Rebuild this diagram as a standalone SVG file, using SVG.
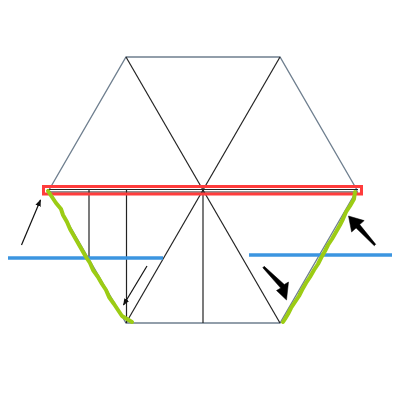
<svg xmlns="http://www.w3.org/2000/svg" width="400" height="400" viewBox="0 0 400 400">
<style>
.hex{fill:none;stroke:#6f7f8f;stroke-width:1.3}
.inner{stroke:#222;stroke-width:1.2;fill:none}
.blue{stroke:#3b95e0;stroke-width:3.5}
.green{fill:none;stroke:#9ccc14;stroke-width:4;stroke-linejoin:round;stroke-linecap:round}
.thin{stroke:#111;stroke-width:1.2}
.bigarrow{fill:#000;stroke:#000;stroke-width:0.5;stroke-linejoin:round}
</style>
<defs>
<marker id="ah" viewBox="0 0 10 10" refX="9" refY="5" markerWidth="7" markerHeight="7" markerUnits="userSpaceOnUse" orient="auto"><path d="M0,1 L10,5 L0,9 Z" fill="#111"/></marker>
</defs>
<g id="hexagon">
<polygon class="hex" points="126,57 280,57 357,190 280,323 126,323 49,190"/>
</g>
<g id="inner-lines">
<line class="inner" x1="126" y1="57" x2="203" y2="190"/>
<line class="inner" x1="280" y1="57" x2="203" y2="190"/>
<line class="inner" x1="203" y1="190" x2="126" y2="323"/>
<line class="inner" x1="203" y1="190" x2="280" y2="323"/>
<line class="inner" x1="203" y1="190" x2="203" y2="323"/>
<line class="inner" x1="89" y1="190" x2="89" y2="258"/>
<line class="inner" x1="126.5" y1="190" x2="126.5" y2="323"/>
<line class="inner" x1="47" y1="189.5" x2="358" y2="189.5"/>
<line class="inner" x1="47" y1="192" x2="358" y2="192"/>
</g>
<g id="red-box">
<rect x="43.5" y="186.5" width="318" height="7.5" fill="none" stroke="#ff3c3c" stroke-width="3"/>
</g>
<g id="blue-lines">
<line class="blue" x1="8" y1="258" x2="163" y2="258"/>
<line class="blue" x1="249" y1="255" x2="392" y2="255"/>
</g>
<g id="green-lines">
<polyline class="green" points="48,191 52,197 56,203 61,209 63,215 67,222 70,229 74,236 78,243 82,250 86,257 90,263 93,270 98,277 102,284 106,290 109,297 114,304 118,310 122,316 127,319 132,322"/>
<polyline class="green" points="355,192 354,199 350,206 346,212 343,219 340,225 336,232 332,239 328,245 325,251 321,258 318,264 314,270 310,277 306,283 302,290 299,296 295,302 291,308 288,314 285,319 283,322"/>
</g>
<g id="connectors">
<line class="thin" x1="21.5" y1="245" x2="40.5" y2="200" marker-end="url(#ah)"/>
<line class="thin" x1="147" y1="266" x2="123.5" y2="305" marker-end="url(#ah)"/>
<polygon class="bigarrow" points="348.5,216 364.2,220.6 359.7,224.6 375.7,244.3 374.3,245.7 356.1,228 351.6,232"/>
<polygon class="bigarrow" points="286.5,300 276.5,290.5 280.7,288.1 262.8,267.7 264.2,266.3 284.3,284.5 288.5,282"/>
</g>
</svg>
